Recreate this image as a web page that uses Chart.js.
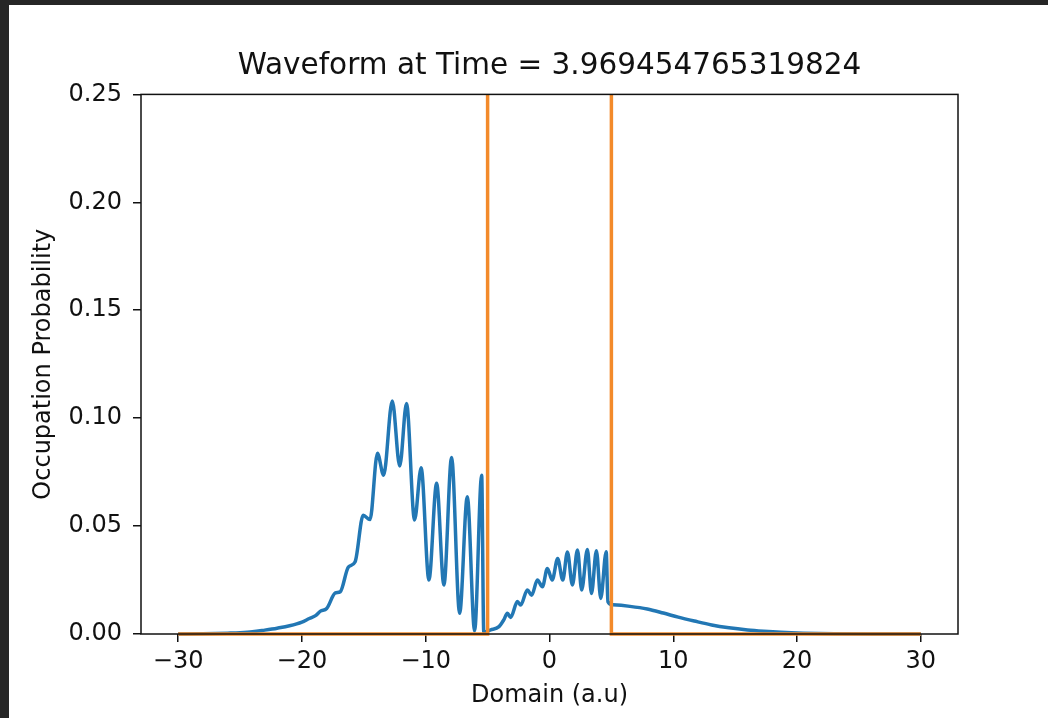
<!DOCTYPE html>
<html>
<head>
<meta charset="utf-8">
<script src="https://cdn.jsdelivr.net/npm/chart.js@4.4.0/dist/chart.umd.min.js"></script>
<style>
html, body { margin: 0; padding: 0; background: #262626; overflow: hidden; }
#frame { position: absolute; left: 9px; top: 5px; width: 1039px; height: 713px; background: #fff; }
canvas { display: block; }
</style>
</head>
<body>
<div id="frame"><canvas id="chart" width="1039" height="713"></canvas></div>
<script>
// probability density
const waveX = [-30, -28, -26, -25, -24, -23, -22, -21, -20, -19.4, -18.9, -18.5, -18.0, -17.3, -16.9,
    -16.25, -15.7, -15.05, -14.5, -13.9, -13.4, -12.7, -12.1, -11.55, -10.9, -10.37, -9.74, -9.12,
    -8.53, -7.91, -7.26, -6.64, -6.05, -5.48, -5.31, -4.75, -4.08, -3.7, -3.4, -3.14, -2.59, -2.33,
    -1.79, -1.44, -0.98, -0.57, -0.17, 0.22, 0.66, 1.07, 1.45, 1.85, 2.26, 2.6, 3.06, 3.39, 3.79,
    4.14, 4.58, 4.72, 5.1, 6.5, 7.9, 9.2, 10.4, 11.7, 13.1, 14.5, 16.0, 17.3, 18.7, 20.5, 23, 26, 30];
const waveY = [0, 0.0001, 0.0004, 0.0006, 0.001, 0.0018, 0.0027, 0.0038, 0.0055, 0.0072, 0.0085, 0.0106, 0.0118, 0.019, 0.0196,
    0.031, 0.0335, 0.055, 0.053, 0.0837, 0.0736, 0.108, 0.0778, 0.1068, 0.0528, 0.077, 0.025, 0.0698,
    0.0227, 0.0818, 0.0096, 0.0636, 0.0015, 0.0736, 0.001, 0.0019, 0.0034, 0.0065, 0.0096, 0.0077, 0.015, 0.0134,
    0.0204, 0.018, 0.025, 0.0219, 0.0304, 0.025, 0.035, 0.025, 0.038, 0.0227, 0.0389, 0.0204, 0.0392, 0.0188, 0.0386,
    0.0165, 0.0381, 0.015, 0.0135, 0.0128, 0.0116, 0.0097, 0.0078, 0.006, 0.0042, 0.0029, 0.0019, 0.0013, 0.0008, 0.0004, 0.0001, 0, 0];

// barrier potential (goes off the top of the plot)
const potentialX = [-30, -5, -5, 5, 5, 30];
const potentialY = [0, 0, 1, 1, 0, 0];

const xTicks = [-30, -20, -10, 0, 10, 20, 30];
const yTicks = [0, 0.05, 0.10, 0.15, 0.20, 0.25];

const titleText = 'Waveform at Time = 3.969454765319824';
const xLabel = 'Domain (a.u)';
const yLabel = 'Occupation Probability';

const fontFamily = '"DejaVu Sans", sans-serif';
const textColor = '#111';

const frameBox = {
    id: 'frameBox',
    afterDatasetsDraw(chart) {
        const {ctx, chartArea: a} = chart;
        ctx.save();
        ctx.strokeStyle = '#111';
        ctx.lineWidth = 1.5;
        ctx.strokeRect(a.left, a.top, a.right - a.left, a.bottom - a.top);
        ctx.restore();
    }
};

const lineClip = {left: 10, top: 0, right: 10, bottom: 10};

new Chart(document.getElementById('chart').getContext('2d'), {
    type: 'line',
    data: {
        datasets: [
            {
                data: waveX.map((x, i) => ({x: x, y: waveY[i]})),
                borderColor: '#2277b4',
                borderWidth: 3.5,
                pointRadius: 0,
                cubicInterpolationMode: 'monotone',
                clip: lineClip,
                order: 1
            },
            {
                data: potentialX.map((x, i) => ({x: x, y: potentialY[i]})),
                borderColor: '#f38a2a',
                borderWidth: 3.5,
                pointRadius: 0,
                tension: 0,
                clip: lineClip,
                order: 0
            }
        ]
    },
    options: {
        responsive: false,
        animation: false,
        layout: {padding: {left: 0, top: 0, right: 90, bottom: 0}},
        plugins: {
            legend: {display: false},
            tooltip: {enabled: false},
            title: {
                display: true,
                text: titleText,
                fullSize: false,
                color: textColor,
                font: {family: fontFamily, size: 29.5, weight: 'normal'},
                padding: {top: 44, bottom: 10}
            }
        },
        scales: {
            x: {
                type: 'linear',
                min: -33,
                max: 33,
                afterBuildTicks: s => { s.ticks = xTicks.map(v => ({value: v})); },
                afterFit: s => { s.height = 84; },
                border: {display: false},
                grid: {drawOnChartArea: false, drawTicks: true, tickLength: 8, color: '#111', lineWidth: 1.5},
                ticks: {
                    color: textColor,
                    padding: 5,
                    maxRotation: 0,
                    font: {family: fontFamily, size: 24},
                    callback: v => String(v).replace('-', '\u2212')
                },
                title: {
                    display: true,
                    text: xLabel,
                    color: textColor,
                    font: {family: fontFamily, size: 24},
                    padding: {top: 0, bottom: 8}
                }
            },
            y: {
                min: 0,
                max: 0.25,
                afterBuildTicks: s => { s.ticks = yTicks.map(v => ({value: v})); },
                afterFit: s => { s.width = 132; },
                border: {display: false},
                grid: {drawOnChartArea: false, drawTicks: true, tickLength: 8, color: '#111', lineWidth: 1.5},
                ticks: {
                    color: textColor,
                    padding: 11,
                    font: {family: fontFamily, size: 24},
                    callback: v => v.toFixed(2)
                },
                title: {
                    display: true,
                    text: yLabel,
                    color: textColor,
                    font: {family: fontFamily, size: 24},
                    padding: {top: 20, bottom: 0}
                }
            }
        }
    },
    plugins: [frameBox]
});
</script>
</body>
</html>
